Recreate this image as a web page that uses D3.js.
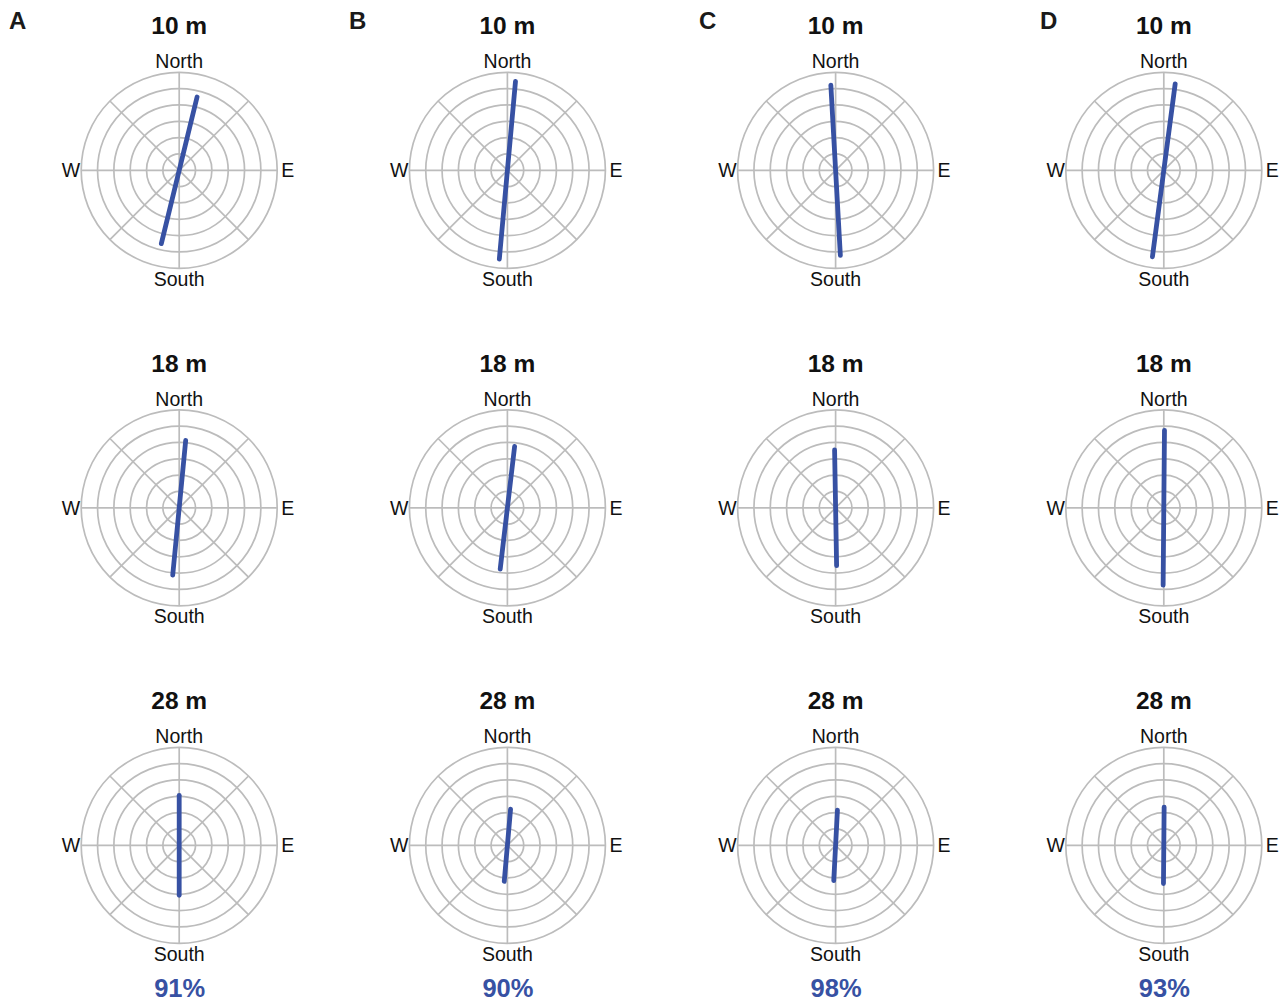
<!DOCTYPE html>
<html>
<head>
<meta charset="utf-8">
<script src="https://cdn.jsdelivr.net/npm/d3@7"></script>
<style>
  html, body { margin: 0; padding: 0; background: #fff; }
  svg { display: block; font-family: "Liberation Sans", Arial, Helvetica, sans-serif; }
</style>
</head>
<body>
<svg id="chart" width="1281" height="1003"></svg>
<script>
// ---------- data ----------
const panels = ["A", "B", "C", "D"];
const depths = ["10 m", "18 m", "28 m"];
// mean axial direction (degrees clockwise from North), per depth row, per panel column
const directions = [
  [13.7, 5.2, -3.2, 7.5],
  [5.5, 6.7, -1.0, 0.5],
  [0.0, 5.0, 3.0, 0.5]
];
// vector length (fraction of the outer ring), per depth row, per panel column
const lengths = [
  [0.77, 0.91, 0.87, 0.89],
  [0.69, 0.63, 0.59, 0.79],
  [0.51, 0.37, 0.36, 0.39]
];
const percents = ["91%", "90%", "98%", "93%"];
const ringTicks = [1/6, 2/6, 3/6, 4/6, 5/6, 1];
const spokeAngles = [0, 45, 90, 135, 180, 225, 270, 315];
const compass = { n: "North", s: "South", w: "W", e: "E" };

// ---------- layout ----------
const R = 98;
const letterX = [9, 349, 699, 1040];
const blue = "#3751a3";
const gridCol = "#bcbcbc";

const svg = d3.select("#chart");
const xCol = d3.scalePoint().domain(panels).range([179.2, 1163.8]);
const yRow = d3.scalePoint().domain(depths).range([170.3, 845.3]);
const rScale = d3.scaleLinear().domain([0, 1]).range([0, R]);
const aScale = d3.scaleLinear().domain([0, 360]).range([0, 2 * Math.PI]);
const radialLine = d3.lineRadial()
  .angle(d => aScale(d[0]))
  .radius(d => rScale(d[1]));

// panel letters
panels.forEach((p, i) => {
  svg.append("text")
    .attr("x", letterX[i]).attr("y", 29.3)
    .attr("font-size", 24).attr("font-weight", "bold")
    .attr("fill", "#1a1a1a")
    .text(p);
});

panels.forEach((p, ci) => {
  depths.forEach((dep, ri) => {
    const cx = xCol(p), cy = yRow(dep);
    const g = svg.append("g").attr("transform", `translate(${cx},${cy})`);

    // rings
    g.selectAll("circle.ring").data(ringTicks).join("circle")
      .attr("class", "ring")
      .attr("r", d => rScale(d))
      .attr("fill", "none")
      .attr("stroke", gridCol)
      .attr("stroke-width", 1.7);

    // spokes
    g.selectAll("path.spoke").data(spokeAngles).join("path")
      .attr("class", "spoke")
      .attr("d", a => radialLine([[a, 0], [a, 1]]))
      .attr("fill", "none")
      .attr("stroke", gridCol)
      .attr("stroke-width", 1.7);

    // compass labels
    g.append("text").attr("x", 0).attr("y", -102)
      .attr("text-anchor", "middle").attr("font-size", 19.5).attr("fill", "#111")
      .text(compass.n);
    g.append("text").attr("x", 0).attr("y", 115.7)
      .attr("text-anchor", "middle").attr("font-size", 19.5).attr("fill", "#111")
      .text(compass.s);
    g.append("text").attr("x", -99).attr("y", 6.7)
      .attr("text-anchor", "end").attr("font-size", 19.5).attr("fill", "#111")
      .text(compass.w);
    g.append("text").attr("x", 102).attr("y", 6.7)
      .attr("text-anchor", "start").attr("font-size", 19.5).attr("fill", "#111")
      .text(compass.e);

    // depth title
    g.append("text").attr("x", 0).attr("y", -136)
      .attr("text-anchor", "middle").attr("font-size", 24.5).attr("font-weight", "bold")
      .attr("fill", "#111")
      .text(dep);

    // axial direction line
    const th = directions[ri][ci], len = lengths[ri][ci];
    g.append("path")
      .attr("d", radialLine([[th, len], [th + 180, len]]))
      .attr("fill", "none")
      .attr("stroke", blue)
      .attr("stroke-width", 4.8)
      .attr("stroke-linecap", "round");
  });

  // percentage
  svg.append("text")
    .attr("x", xCol(p) + 0.5).attr("y", 997.3)
    .attr("text-anchor", "middle").attr("font-size", 25.5).attr("font-weight", "bold")
    .attr("fill", blue)
    .text(percents[ci]);
});
</script>
</body>
</html>
